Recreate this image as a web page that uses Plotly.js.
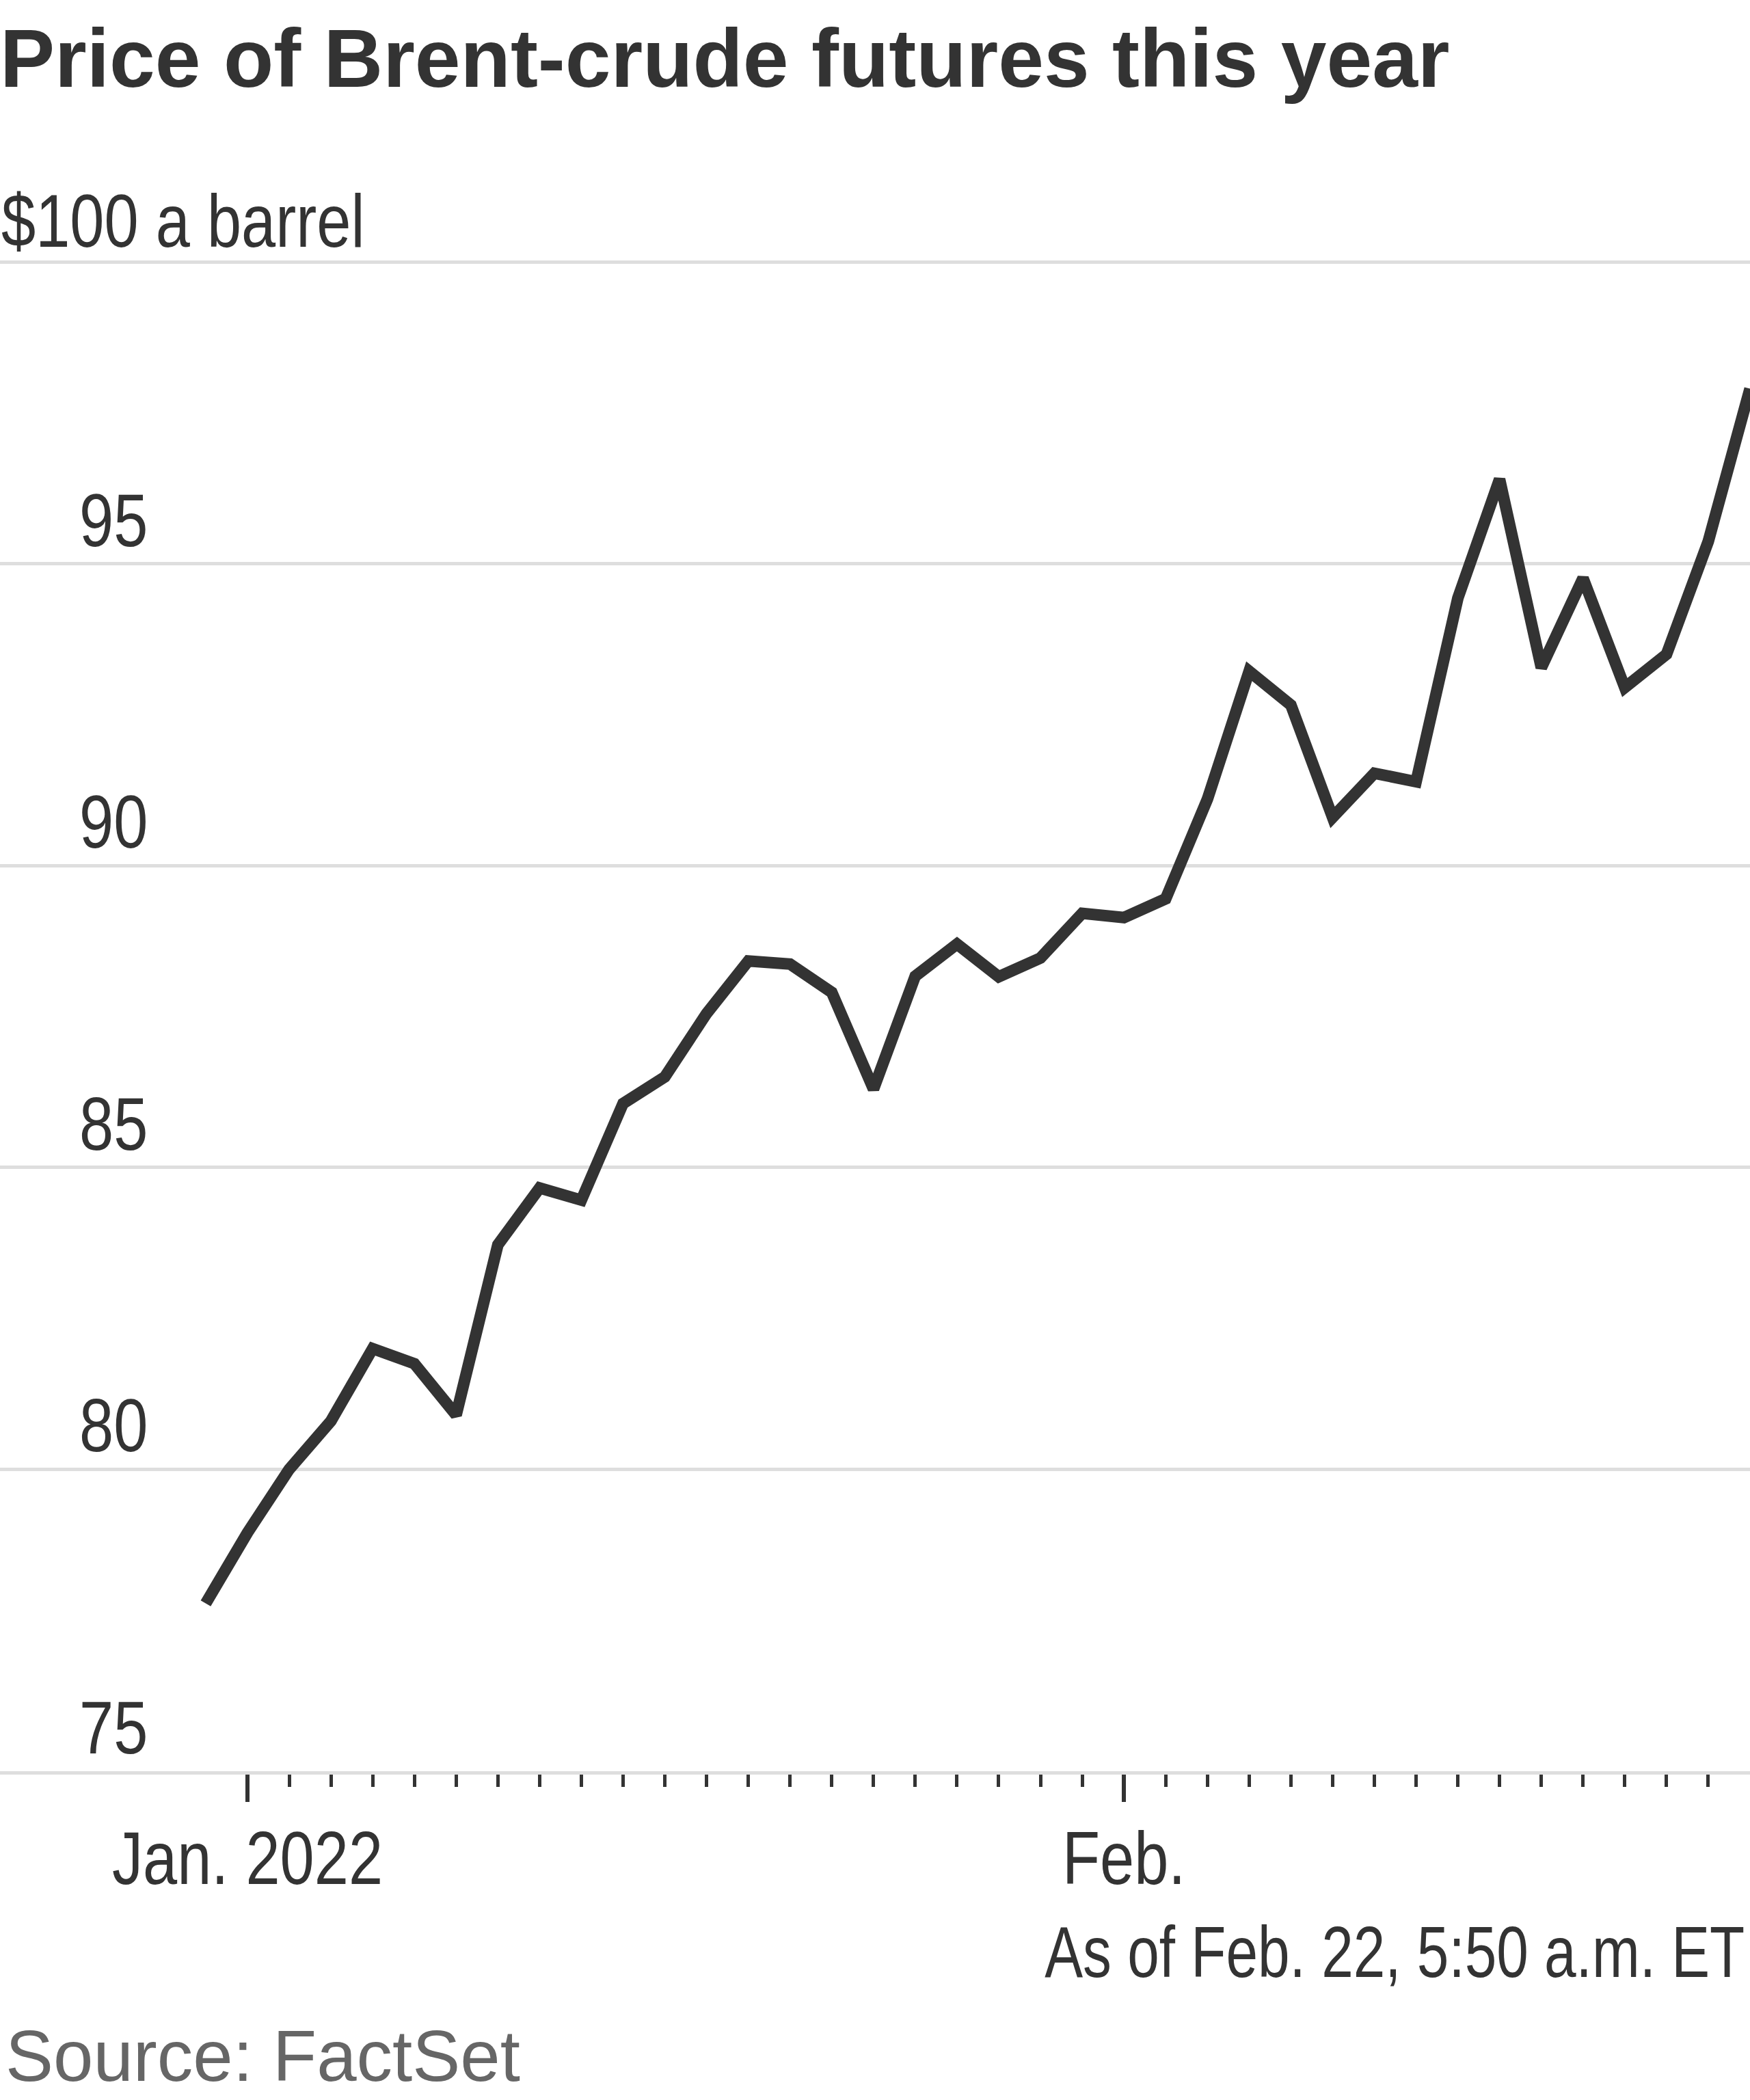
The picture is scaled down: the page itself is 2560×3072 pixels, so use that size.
<!DOCTYPE html>
<html>
<head>
<meta charset="utf-8">
<script src="https://cdn.plot.ly/plotly-3.0.1.min.js"></script>
<style>
  html, body { margin: 0; padding: 0; background: #ffffff; }
  #chart { width: 2560px; height: 3072px; }
</style>
</head>
<body>
<div id="chart"></div>
<script>
// ---- Data ----
const dates = [
  "2021-12-31",
  "2022-01-03","2022-01-04","2022-01-05","2022-01-06","2022-01-07",
  "2022-01-10","2022-01-11","2022-01-12","2022-01-13","2022-01-14",
  "2022-01-17","2022-01-18","2022-01-19","2022-01-20","2022-01-21",
  "2022-01-24","2022-01-25","2022-01-26","2022-01-27","2022-01-28",
  "2022-01-31",
  "2022-02-01","2022-02-02","2022-02-03","2022-02-04",
  "2022-02-07","2022-02-08","2022-02-09","2022-02-10","2022-02-11",
  "2022-02-14","2022-02-15","2022-02-16","2022-02-17","2022-02-18",
  "2022-02-21","2022-02-22"
];
const prices = [
  77.78,
  78.95, 80.0, 80.8, 82.0, 81.75,
  80.9, 83.72, 84.66, 84.46, 86.06,
  86.5, 87.55, 88.42, 88.37, 87.9,
  86.3, 88.17, 88.7, 88.16, 88.47,
  89.21,
  89.14, 89.45, 91.1, 93.22,
  92.66, 90.8, 91.53, 91.39, 94.43,
  96.4, 93.28, 94.76, 92.95, 93.5,
  95.37, 97.9
];
const yTickValues = [75, 80, 85, 90, 95, 100];
const yTickLabels = ["75", "80", "85", "90", "95", "$100 a barrel"];
const xMajorTickDates = ["2022-01-03", "2022-02-01"];
const xMajorTickLabels = ["Jan. 2022", "Feb."];
const xMinorTickDates = dates.slice(1, -1);
const chartTitle = "Price of Brent-crude futures this year";
const noteText = "As of Feb. 22, 5:50 a.m. ET";
const sourceText = "Source: FactSet";

// ---- Layout constants ----
const W = 2560, H = 3072;
const M = { l: 0, r: 0, t: 339, b: 481 };
const plotH = H - M.t - M.b;
const REG = '"Liberation Sans", Arial, sans-serif';
const DARK = '#333333';
const NARROW_SCALE = 0.82;   // emulate a narrow (condensed) face

const xIndex = dates.map((d, i) => i);
const idx = d => dates.indexOf(d);
const pyPaper = px => (H - M.b - px) / plotH;

const trace = {
  x: xIndex,
  y: prices,
  type: 'scatter',
  mode: 'lines',
  line: { color: DARK, width: 17 },
  hoverinfo: 'skip',
  showlegend: false
};

const annotations = [];
yTickValues.forEach((v, i) => {
  const isUnit = i === yTickValues.length - 1;
  annotations.push({
    text: yTickLabels[i],
    xref: 'paper', x: isUnit ? 0 : 218 / W,
    xanchor: isUnit ? 'left' : 'right',
    align: isUnit ? 'left' : 'right',
    yref: 'y', y: v, yanchor: 'bottom',
    yshift: isUnit ? -3 : 1,
    showarrow: false,
    font: { family: REG, size: 110, color: DARK }
  });
});
annotations.push({
  text: noteText, xref: 'paper', x: 1, xanchor: 'right', align: 'right', xshift: -6,
  yref: 'paper', y: pyPaper(2916), yanchor: 'bottom',
  showarrow: false, font: { family: REG, size: 106, color: DARK }
});
annotations.push({
  text: sourceText, xref: 'paper', x: 0, xanchor: 'left', align: 'left', xshift: 6,
  yref: 'paper', y: pyPaper(3068), yanchor: 'bottom',
  showarrow: false, font: { family: REG, size: 105, color: '#666666' }
});

const layout = {
  width: W, height: H,
  margin: M,
  paper_bgcolor: '#ffffff',
  plot_bgcolor: '#ffffff',
  showlegend: false,
  title: {
    text: chartTitle,
    xref: 'container', x: 0, xanchor: 'left',
    yref: 'container', y: 1 - 43 / H, yanchor: 'top',
    font: { family: REG, size: 120, color: DARK, weight: 'bold' }
  },
  xaxis: {
    type: 'linear',
    range: [1 - 362 / 61.06, dates.length - 1],
    showgrid: false, zeroline: false,
    showline: true, linecolor: '#dedede', linewidth: 5,
    tickmode: 'array',
    tickvals: xMajorTickDates.map(idx),
    ticktext: xMajorTickLabels,
    ticks: 'outside', ticklen: 40, tickwidth: 6, tickcolor: DARK,
    ticklabelstandoff: -12,
    tickfont: { family: REG, size: 110, color: DARK },
    minor: {
      tickmode: 'array',
      tickvals: xMinorTickDates.map(idx),
      ticks: 'outside', ticklen: 18, tickwidth: 5, tickcolor: DARK,
      showgrid: false
    },
    fixedrange: true
  },
  yaxis: {
    range: [75, 100.5],
    tickmode: 'array',
    tickvals: yTickValues,
    showticklabels: false,
    showgrid: true, gridcolor: '#dedede', gridwidth: 5,
    zeroline: false, showline: false, ticks: '',
    fixedrange: true
  },
  annotations: annotations
};

// Horizontally condense a text element around its anchor point (narrow-face look).
function condense(el, s) {
  const bb = el.getBBox();
  const anchor = el.getAttribute('text-anchor') || 'start';
  const ax = anchor === 'middle' ? bb.x + bb.width / 2
           : anchor === 'end' ? bb.x + bb.width : bb.x;
  const prev = el.getAttribute('transform') || '';
  el.setAttribute('transform',
    prev + ' translate(' + ax + ',0) scale(' + s + ',1) translate(' + (-ax) + ',0)');
}

Plotly.newPlot('chart', [trace], layout, { displayModeBar: false, staticPlot: true })
  .then(gd => {
    gd.querySelectorAll('.annotation-text').forEach(el => {
      const t = el.textContent;
      if (t === sourceText) return;
      condense(el, t === noteText ? 0.79 : NARROW_SCALE);
    });
    gd.querySelectorAll('.xtick text').forEach(el => condense(el, NARROW_SCALE));
  });
</script>
</body>
</html>
